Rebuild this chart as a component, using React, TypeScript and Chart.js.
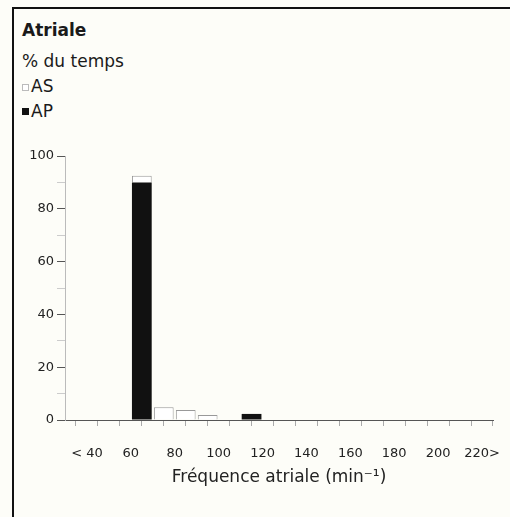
import React, { useEffect, useRef } from "react";
import { Chart, registerables } from "chart.js";

Chart.register(...registerables);

const binCenters = [35, 45, 55, 65, 75, 85, 95, 105, 115, 125, 135, 145, 155, 165, 175, 185, 195, 205, 215];
const apValues = [null, null, null, 90, null, null, null, null, 2.3, null, null, null, null, null, null, null, null, null, null];
const asValues = [null, null, null, 2.5, 4.8, 3.8, 1.9, null, null, null, null, null, null, null, null, null, null, null, null];
const xTickLabels: Record<number, string> = {
  40: "< 40", 60: "60", 80: "80", 100: "100", 120: "120", 140: "140",
  160: "160", 180: "180", 200: "200", 220: "220>",
};
const yLabeled = [0, 20, 40, 60, 80, 100];

const FONT = "'DejaVu Sans', sans-serif";

export default function App() {
  const ref = useRef<HTMLCanvasElement>(null);
  useEffect(() => {
    const canvas = ref.current!;
    const chart = new Chart(canvas, {
      type: "bar",
      data: {
        datasets: [
          {
            label: "AP",
            data: binCenters.map((x, i) => ({ x, y: apValues[i] })),
            backgroundColor: "#111",
            borderColor: "#111",
            borderWidth: 0,
            barPercentage: 0.9,
            categoryPercentage: 1,
          },
          {
            label: "AS",
            data: binCenters.map((x, i) => ({ x, y: asValues[i] })),
            backgroundColor: "#ffffff",
            borderColor: "#999",
            borderWidth: 1,
            barPercentage: 0.9,
            categoryPercentage: 1,
          },
        ],
      } as any,
      options: {
        responsive: false,
        animation: false,
        layout: { padding: { left: 0, top: 26, right: 17, bottom: 29 } },
        plugins: { legend: { display: false }, tooltip: { enabled: false } },
        scales: {
          x: {
            type: "linear",
            stacked: true,
            min: 30,
            max: 225,
            offset: false,
            ticks: {
              stepSize: 10,
              autoSkip: false,
              includeBounds: false,
              maxRotation: 0,
              padding: 20,
              color: "#222",
              font: { family: FONT, size: 13 },
              callback: (v: any) => xTickLabels[v as number] ?? "",
            },
            grid: { drawOnChartArea: false, drawTicks: true, tickLength: 6, color: "#aaa" },
            border: { display: true, color: "#555", width: 1 },
            title: {
              display: true,
              text: "Fréquence atriale (min⁻¹)",
              color: "#222",
              font: { family: FONT, size: 17 },
              padding: { top: 7, bottom: 0 },
            },
            afterFit: (s: any) => {
              s.height = 68;
              s.paddingLeft = 0;
              s.paddingRight = 0;
            },
          } as any,
          y: {
            type: "linear",
            stacked: true,
            min: 0,
            max: 100,
            ticks: {
              stepSize: 10,
              autoSkip: false,
              padding: 3,
              color: "#222",
              font: { family: FONT, size: 13 },
              callback: (v: any) => (yLabeled.includes(v as number) ? String(v) : ""),
            },
            grid: {
              drawOnChartArea: false,
              drawTicks: true,
              tickLength: 8,
              color: (ctx: any) => (ctx.tick && (ctx.tick.value as number) % 20 !== 0 ? "#ccc" : "#555"),
            },
            border: { display: true, color: "#bbb", width: 1 },
            afterFit: (s: any) => {
              s.width = 51;
            },
          } as any,
        },
      },
    });
    return () => chart.destroy();
  }, []);

  const text: React.CSSProperties = {
    position: "absolute",
    left: 22,
    fontFamily: FONT,
    fontSize: 17,
    lineHeight: "17px",
    color: "#1a1a1a",
    whiteSpace: "nowrap",
  };

  return (
    <div style={{ position: "fixed", left: 0, top: 0, width: 510, height: 517, background: "#fdfdf8", overflow: "hidden" }}>
      <div style={{ position: "absolute", left: 12, top: 7, right: -10, bottom: -10, borderLeft: "2px solid #111", borderTop: "2px solid #111" }} />
      <div style={{ ...text, top: 22, fontWeight: "bold" }}>Atriale</div>
      <div style={{ ...text, top: 53 }}>% du temps</div>
      <div style={{ position: "absolute", left: 22, top: 84, width: 5, height: 5, border: "1px solid #bbb", background: "#fff" }} />
      <div style={{ ...text, top: 78, left: 31 }}>AS</div>
      <div style={{ position: "absolute", left: 22, top: 108, width: 7, height: 7, background: "#111" }} />
      <div style={{ ...text, top: 103, left: 31 }}>AP</div>
      <canvas ref={ref} width={496} height={387} style={{ position: "absolute", left: 14, top: 130, width: 496, height: 387 }} />
    </div>
  );
}
